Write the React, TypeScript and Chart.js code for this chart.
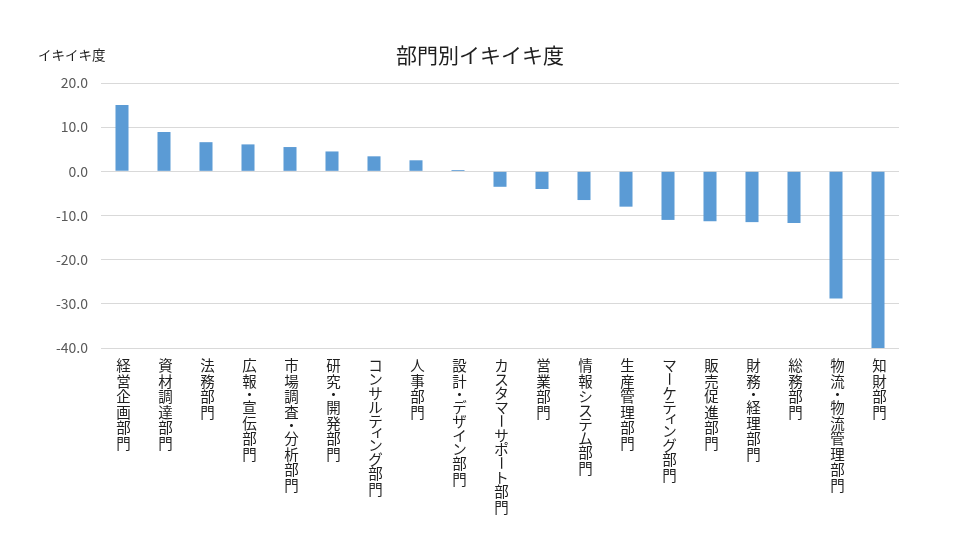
import React, { useEffect, useRef } from "react";
import { Chart, registerables } from "chart.js";

Chart.register(...registerables);

const chartTitle = "部門別イキイキ度";
const axisTitle = "イキイキ度";

const categories = [
  "経営企画部門",
  "資材調達部門",
  "法務部門",
  "広報・宣伝部門",
  "市場調査・分析部門",
  "研究・開発部門",
  "コンサルティング部門",
  "人事部門",
  "設計・デザイン部門",
  "カスタマーサポート部門",
  "営業部門",
  "情報システム部門",
  "生産管理部門",
  "マーケティング部門",
  "販売促進部門",
  "財務・経理部門",
  "総務部門",
  "物流・物流管理部門",
  "知財部門",
];

const values = [
  15.0, 8.9, 6.6, 6.1, 5.5, 4.5, 3.4, 2.5, 0.3, -3.5, -4.0, -6.5, -8.0, -11.0,
  -11.3, -11.5, -11.7, -28.8, -40.0,
];

const yMin = -40;
const yMax = 20;
const yStep = 10;

const FONT = '"Noto Sans CJK JP", "Noto Sans", sans-serif';

const smallKana = "ァィゥェォッャュョヮぁぃぅぇぉっゃゅょ";

function isKanji(c: string) {
  const code = c.charCodeAt(0);
  return code >= 0x4e00 && code <= 0x9fff;
}

function advanceOf(c: string) {
  if (c === "・") return 11;
  if (smallKana.includes(c)) return 10;
  if (isKanji(c)) return 15.5;
  return 14;
}

const drawPlugin = {
  id: "customText",
  afterDraw(chart: any) {
    const ctx = chart.ctx as CanvasRenderingContext2D;
    const area = chart.chartArea;
    const xScale = chart.scales.x;
    ctx.save();
    // chart title
    ctx.fillStyle = "#1f1f1f";
    ctx.font = `21px ${FONT}`;
    ctx.textAlign = "center";
    ctx.textBaseline = "middle";
    ctx.fillText(chartTitle, 480, 55);
    // axis title
    ctx.fillStyle = "#1f1f1f";
    ctx.font = `13.5px ${FONT}`;
    ctx.textAlign = "left";
    ctx.fillText(axisTitle, 38, 55);
    // vertical category labels
    ctx.fillStyle = "#1f1f1f";
    ctx.font = `14.5px ${FONT}`;
    ctx.textAlign = "center";
    ctx.textBaseline = "middle";
    categories.forEach((label, i) => {
      const x = xScale.getPixelForValue(i) + 1.5;
      let y = area.bottom + 10;
      for (const c of Array.from(label)) {
        const adv = advanceOf(c);
        const cy = y + adv / 2;
        if (c === "ー") {
          ctx.save();
          ctx.translate(x, cy);
          ctx.rotate(Math.PI / 2);
          ctx.fillText(c, 0, 0);
          ctx.restore();
        } else if (smallKana.includes(c)) {
          ctx.fillText(c, x + 2, cy - 2);
        } else {
          ctx.fillText(c, x, cy);
        }
        y += adv;
      }
    });
    ctx.restore();
  },
};

export default function App() {
  const ref = useRef<HTMLCanvasElement | null>(null);

  useEffect(() => {
    document.body.style.margin = "0";
    if (!ref.current) return;
    const chart = new Chart(ref.current, {
      type: "bar",
      data: {
        labels: categories,
        datasets: [
          {
            data: values,
            backgroundColor: "#5b9bd5",
            barPercentage: 0.31,
            categoryPercentage: 1,
          },
        ],
      },
      options: {
        responsive: false,
        animation: false,
        layout: { padding: { top: 83, right: 81, left: 0, bottom: 0 } },
        plugins: {
          legend: { display: false },
          title: { display: false },
          tooltip: { enabled: false },
        },
        scales: {
          x: {
            grid: { display: false },
            border: { display: false },
            ticks: { display: false },
            afterFit: (scale: any) => {
              scale.height = 212;
            },
          },
          y: {
            min: yMin,
            max: yMax,
            ticks: {
              stepSize: yStep,
              padding: 13,
              color: "#595959",
              font: { family: FONT, size: 14 },
              callback: (v: any) => Number(v).toFixed(1),
            },
            grid: { color: "#d9d9d9", drawTicks: false, lineWidth: 1 },
            border: { display: false },
            afterFit: (scale: any) => {
              scale.width = 101;
            },
          },
        },
      },
      plugins: [drawPlugin],
    });
    return () => chart.destroy();
  }, []);

  return (
    <div style={{ width: 980, height: 560, background: "#fff" }}>
      <canvas ref={ref} width={980} height={560} />
    </div>
  );
}
